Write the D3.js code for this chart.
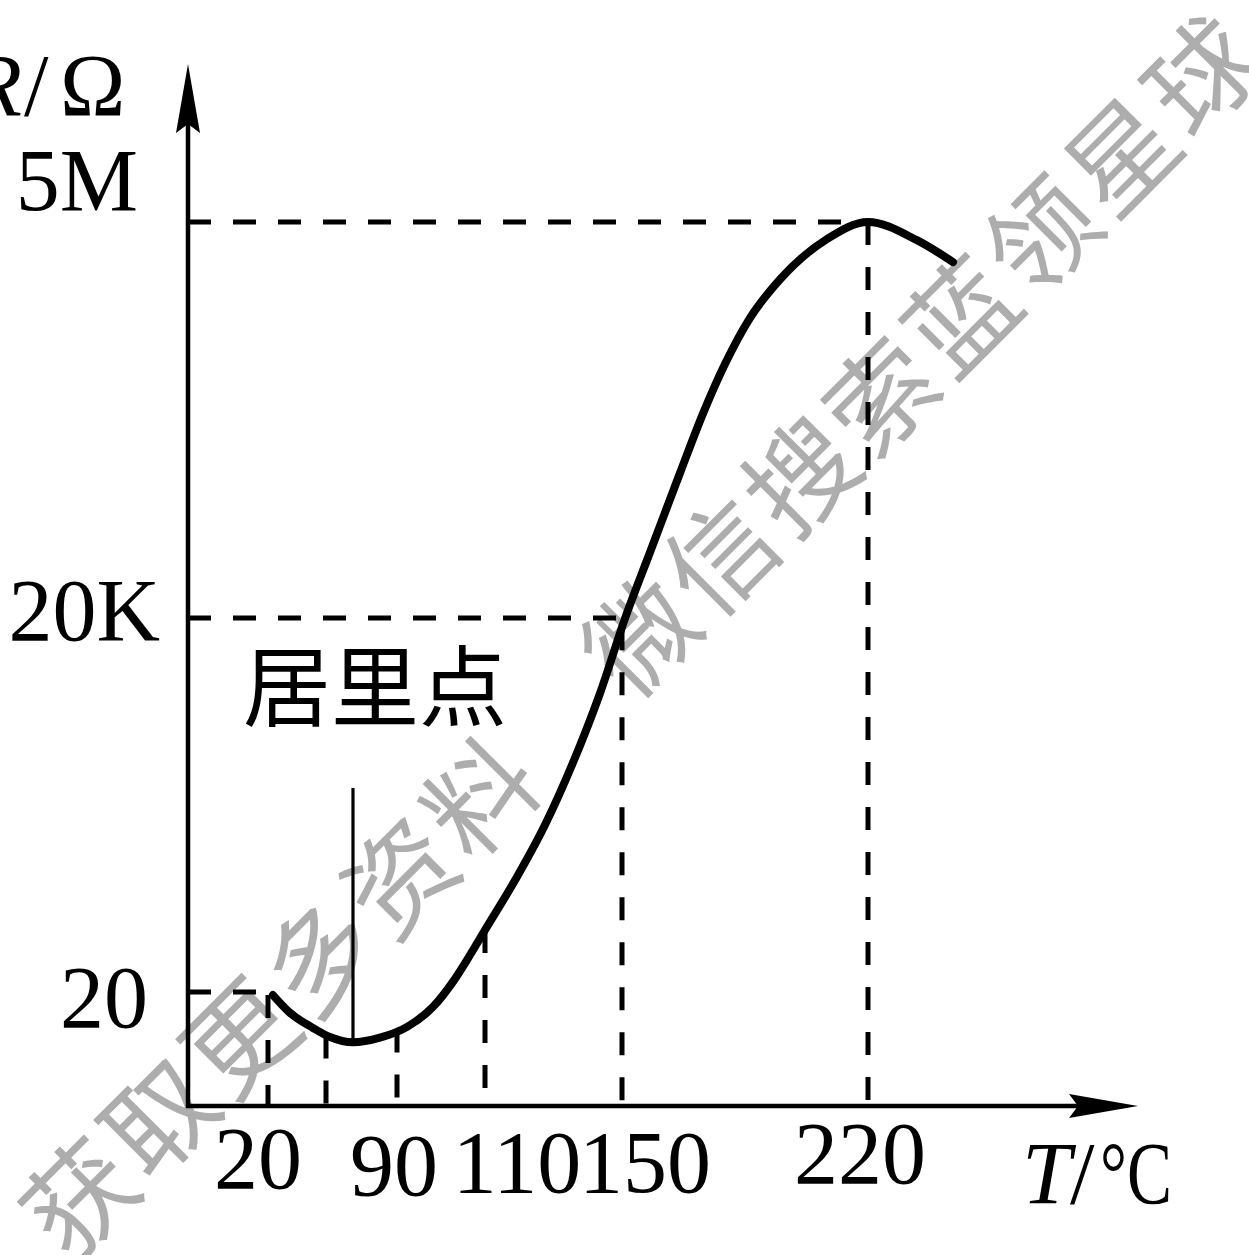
<!DOCTYPE html>
<html>
<head>
<meta charset="utf-8">
<script src="https://cdn.jsdelivr.net/npm/d3@7"></script>
<style>
  body { margin: 0; background: #fff; }
  svg { display: block; }
</style>
</head>
<body>
<svg width="1249" height="1255"></svg>
<script>
// curve: temperature (°C) and resistance (Ω)
const temps = [23.4, 35.2, 51, 61.7, 71.4, 82.8, 92.3, 98.2, 102.7, 106.6, 110, 118.8, 127.5,
               135.4, 143.6, 150.9, 158, 166.5, 173.1, 179.3, 186.4, 195, 208.3, 220, 233.9, 244.2];
const resist = [18.9, 13.6, 10.3, 8.7, 7.9, 8.6, 10.5, 15.2, 24.1, 39.6, 62.8, 158, 437,
                1324, 5000, 20000, 50200, 151000, 348000, 690000, 1.31e6, 2.25e6, 3.94e6, 5e6, 3.88e6, 2.86e6];

// tick labels
const xTicks = [20, 90, 110, 150, 220];
const xTickLabels = ["20", "90", "110", "150", "220"];
const yTicks = [20, 20000, 5e6];
const yTickLabels = ["20", "20K", "5M"];

// dashed guide lines
const dropTemps = [20, 60, 90, 110, 150, 220];   // vertical, curve -> axis
const levelR = [20, 20000, 5e6];                 // horizontal, axis -> curve
const levelT = [20, 150, 220];

// Curie point marker
const curieT = 71.4;
const curieTopR = 865;
const curieLabel = "居里点";

const watermark = "获取更多资料　微信搜索蓝领星球";

const svg = d3.select("svg");
const serif = "'Liberation Serif', 'Times New Roman', serif";
const cjk = "'Noto Sans CJK SC', sans-serif";

// the figure is schematic, so both axes are piecewise
const x = d3.scaleLinear()
  .domain([0, 20, 60, 90, 110, 150, 220])
  .range([188, 268, 326, 397, 485, 622, 868]);
const y = d3.scaleLog()
  .domain([20, 20000, 5e6])
  .range([992, 618, 222]);

const x0 = 188, y0 = 1106;     // origin
const xEnd = 1138, yEnd = 64;  // arrow tips

const pts = temps.map((t, i) => [t, resist[i]]);

// resistance on the curve at temperature t (log interpolation, clamped)
const rAt = t => {
  if (t <= temps[0]) return resist[0];
  if (t >= temps[temps.length - 1]) return resist[resist.length - 1];
  const i = d3.bisectRight(temps, t);
  const k = (t - temps[i - 1]) / (temps[i] - temps[i - 1]);
  return Math.pow(10, Math.log10(resist[i - 1]) * (1 - k) + Math.log10(resist[i]) * k);
};

// watermark under everything
svg.append("text")
  .attr("transform", "translate(636,632) rotate(-45)")
  .attr("text-anchor", "middle")
  .attr("dominant-baseline", "central")
  .attr("textLength", 1695)
  .attr("lengthAdjust", "spacing")
  .style("font-family", cjk)
  .style("font-size", "108px")
  .attr("fill", "#adadad")
  .text(watermark);

// dashed guides
const dash = "23 22";
svg.append("g").selectAll("line")
  .data(dropTemps)
  .enter().append("line")
    .attr("x1", d => x(d)).attr("x2", d => x(d))
    .attr("y1", d => y(rAt(d))).attr("y2", y0)
    .attr("stroke", "#000").attr("stroke-width", 5)
    .attr("stroke-dasharray", dash);

svg.append("g").selectAll("line")
  .data(levelR)
  .enter().append("line")
    .attr("x1", x0).attr("x2", (d, i) => x(levelT[i]))
    .attr("y1", d => y(d)).attr("y2", d => y(d))
    .attr("stroke", "#000").attr("stroke-width", 5)
    .attr("stroke-dasharray", dash);

// Curie point line
svg.append("line")
  .attr("x1", x(curieT)).attr("x2", x(curieT))
  .attr("y1", y(curieTopR)).attr("y2", y(rAt(curieT)))
  .attr("stroke", "#000").attr("stroke-width", 3.2);

svg.append("text")
  .attr("x", 243).attr("y", 719)
  .style("font-family", cjk)
  .style("font-size", "88px")
  .attr("fill", "#000")
  .text(curieLabel);

// the curve
const line = d3.line()
  .x(d => x(d[0]))
  .y(d => y(d[1]))
  .curve(d3.curveMonotoneX);

svg.append("path")
  .datum(pts)
  .attr("d", line)
  .attr("fill", "none")
  .attr("stroke", "#000")
  .attr("stroke-width", 8)
  .attr("stroke-linecap", "round");

// axes with notched arrowheads
const axes = svg.append("g");
axes.append("line")
  .attr("x1", x0 - 2).attr("y1", y0).attr("x2", xEnd - 20).attr("y2", y0)
  .attr("stroke", "#000").attr("stroke-width", 4.5);
axes.append("line")
  .attr("x1", x0).attr("y1", y0 + 2).attr("x2", x0).attr("y2", yEnd + 20)
  .attr("stroke", "#000").attr("stroke-width", 4.5);

const arrow = (tx, ty, dx, dy) => {
  // dx,dy: unit vector pointing to the tip
  const len = 69, half = 12, notch = 9;
  const bx = tx - dx * len, by = ty - dy * len;
  const nx = -dy, ny = dx;
  return `M${tx},${ty}L${bx + nx * half},${by + ny * half}` +
         `L${tx - dx * (len - notch)},${ty - dy * (len - notch)}` +
         `L${bx - nx * half},${by - ny * half}Z`;
};
axes.append("path").attr("d", arrow(xEnd, y0, 1, 0)).attr("fill", "#000");
axes.append("path").attr("d", arrow(x0, yEnd, 0, -1)).attr("fill", "#000");

// x tick labels (hand placed in the original, nudged to match)
const xNudge = [[-10, 1188], [-3, 1195], [32, 1192], [23, 1192], [-8, 1183]];
svg.append("g").selectAll("text")
  .data(xTicks)
  .enter().append("text")
    .attr("x", (d, i) => x(d) + xNudge[i][0])
    .attr("y", (d, i) => xNudge[i][1])
    .attr("text-anchor", "middle")
    .style("font-family", serif)
    .style("font-size", "88px")
    .text((d, i) => xTickLabels[i]);

// y tick labels
const yNudge = [[148, 35], [160, 22], [138, -12]];
svg.append("g").selectAll("text")
  .data(yTicks)
  .enter().append("text")
    .attr("x", (d, i) => yNudge[i][0])
    .attr("y", (d, i) => y(d) + yNudge[i][1])
    .attr("text-anchor", "end")
    .style("font-family", serif)
    .style("font-size", "88px")
    .text((d, i) => yTickLabels[i]);

// axis titles, put together piece by piece like the original
const title = svg.append("g")
  .style("font-family", serif)
  .style("font-size", "88px");
title.append("text").attr("x", 22).attr("y", 115).attr("text-anchor", "end")
  .style("font-style", "italic").text("R");
title.append("text").attr("x", 24).attr("y", 115).text("/");
title.append("text").attr("x", 60).attr("y", 115).text("Ω");

title.append("text").attr("x", 1022).attr("y", 1203)
  .style("font-style", "italic").text("T");
title.append("text").attr("x", 1070).attr("y", 1203).text("/");
title.append("text").attr("x", 1100).attr("y", 1203)
  .attr("textLength", 72).attr("lengthAdjust", "spacingAndGlyphs")
  .text("°C");
</script>
</body>
</html>
